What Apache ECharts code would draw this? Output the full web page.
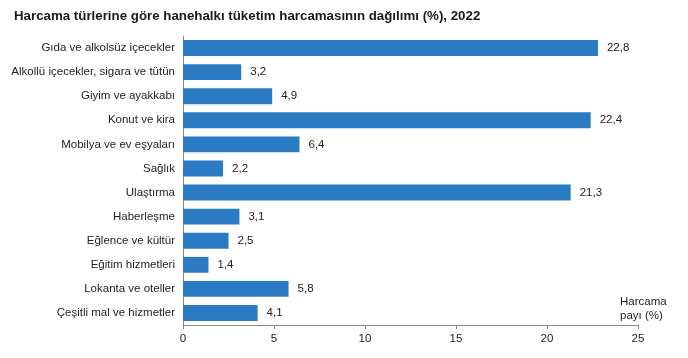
<!DOCTYPE html>
<html><head><meta charset="utf-8">
<script src="https://cdn.jsdelivr.net/npm/echarts@6/dist/echarts.min.js"></script>
<style>html,body{margin:0;padding:0;background:#fff}#c{width:688px;height:358px}</style>
</head><body><div id="c"></div>
<script>
const categories = ["Gıda ve alkolsüz içecekler","Alkollü içecekler, sigara ve tütün","Giyim ve ayakkabı","Konut ve kira","Mobilya ve ev eşyaları","Sağlık","Ulaştırma","Haberleşme","Eğlence ve kültür","Eğitim hizmetleri","Lokanta ve oteller","Çeşitli mal ve hizmetler"];
const values = [22.8,3.2,4.9,22.4,6.4,2.2,21.3,3.1,2.5,1.4,5.8,4.1];
const xTicks = [0,5,10,15,20,25];
const chart = echarts.init(document.getElementById('c'));
chart.setOption({
  animation:false,
  title:{text:"Harcama türlerine göre hanehalkı tüketim harcamasının dağılımı (%), 2022",left:9,top:5,textStyle:{fontFamily:"Liberation Sans",fontSize:13.3,fontWeight:"bold",color:"#1a1a1a"}},
  grid:{left:183,right:50,top:36,bottom:33},
  xAxis:{type:'value',min:xTicks[0],max:xTicks[xTicks.length-1],interval:5,
    name:"Harcama\npayı (%)",nameLocation:'end',nameGap:-18,
    nameTextStyle:{fontFamily:"Liberation Sans",fontSize:11.5,color:"#222",align:'left',verticalAlign:'bottom',padding:[0,0,2,0],lineHeight:14},
    axisLine:{show:true,lineStyle:{color:"#888"}},axisTick:{show:true,length:4,lineStyle:{color:"#888"}},
    splitLine:{show:false},
    axisLabel:{fontFamily:"Liberation Sans",fontSize:11.5,color:"#222",margin:8}},
  yAxis:{type:'category',data:categories,inverse:true,
    axisLine:{show:true,lineStyle:{color:"#888"}},axisTick:{show:false},
    axisLabel:{fontFamily:"Liberation Sans",fontSize:11.5,color:"#222",margin:8}},
  series:[{type:'bar',data:values,barWidth:'66%',itemStyle:{color:"#2b7bc4"},
    label:{show:true,position:'right',distance:9,fontFamily:"Liberation Sans",fontSize:11.5,color:"#222",
      formatter:p=>String(p.value).replace('.',',')}}]
});
</script></body></html>
